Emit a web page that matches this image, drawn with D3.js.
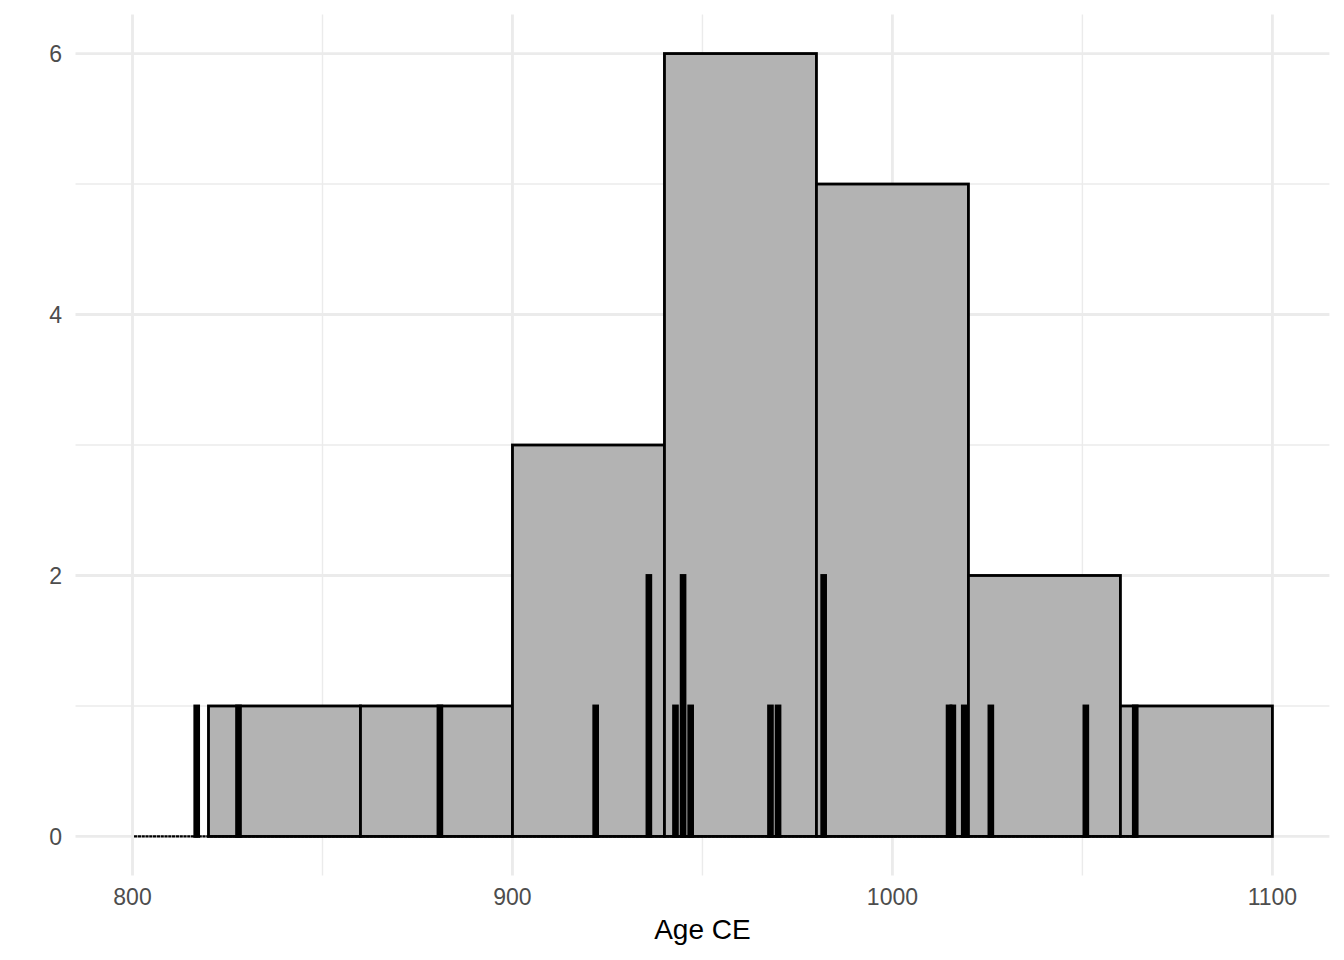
<!DOCTYPE html>
<html>
<head>
<meta charset="utf-8">
<script src="https://cdn.jsdelivr.net/npm/d3@7"></script>
<style>
  html, body { margin: 0; padding: 0; background: #ffffff; }
  svg { display: block; }
  text { font-family: "Liberation Sans", Arial, Helvetica, sans-serif; }
</style>
</head>
<body>
<svg id="chart" width="1344" height="960"></svg>
<script>
// ---- data ----
const bigBinEdges = [820, 860, 900, 940, 980, 1020, 1060, 1100];
const bigCounts   = [1, 1, 3, 6, 5, 2, 1];

const fineBinWidth = 1;
const fineRange = [800.4, 1064.4];
const fineBinStarts = [816.4, 827.4, 880.4, 921.4, 935.4, 942.4, 944.4, 946.4, 967.4, 969.4,
                       981.4, 1014.4, 1015.4, 1018.4, 1025.4, 1050.4, 1063.4];
const fineCounts    = [1, 1, 1, 1, 2, 1, 2, 1, 1, 1,
                       2, 1, 1, 1, 1, 1, 1];

const xTicks = [800, 900, 1000, 1100];
const xMinor = [850, 950, 1050];
const yTicks = [0, 2, 4, 6];
const yMinor = [1, 3, 5];
const xTitle = "Age CE";

// ---- layout ----
const svg = d3.select("#chart");
const panel = { left: 75.5, right: 1329.4, top: 14.4, bottom: 875.6 };

const x = d3.scaleLinear().domain([785, 1115]).range([panel.left, panel.right]);
const y = d3.scaleLinear().domain([-0.3, 6.3]).range([panel.bottom, panel.top]);

const gridColor = "#EBEBEB";
const lw = 2.84;

// grid
const grid = svg.append("g");
grid.selectAll(".ymin").data(yMinor).enter().append("line")
  .attr("x1", panel.left).attr("x2", panel.right)
  .attr("y1", d => y(d)).attr("y2", d => y(d))
  .attr("stroke", gridColor).attr("stroke-width", 1.42);
grid.selectAll(".xmin").data(xMinor).enter().append("line")
  .attr("y1", panel.top).attr("y2", panel.bottom)
  .attr("x1", d => x(d)).attr("x2", d => x(d))
  .attr("stroke", gridColor).attr("stroke-width", 1.42);
grid.selectAll(".ymaj").data(yTicks).enter().append("line")
  .attr("x1", panel.left).attr("x2", panel.right)
  .attr("y1", d => y(d)).attr("y2", d => y(d))
  .attr("stroke", gridColor).attr("stroke-width", lw);
grid.selectAll(".xmaj").data(xTicks).enter().append("line")
  .attr("y1", panel.top).attr("y2", panel.bottom)
  .attr("x1", d => x(d)).attr("x2", d => x(d))
  .attr("stroke", gridColor).attr("stroke-width", lw);

// big histogram
const bigBins = bigCounts.map((c, i) => ({ x0: bigBinEdges[i], x1: bigBinEdges[i + 1], n: c }));
svg.append("g").selectAll("rect").data(bigBins).enter().append("rect")
  .attr("x", d => x(d.x0))
  .attr("width", d => x(d.x1) - x(d.x0))
  .attr("y", d => y(d.n))
  .attr("height", d => y(0) - y(d.n))
  .attr("fill", "#B3B3B3")
  .attr("stroke", "#000000")
  .attr("stroke-width", lw);

// zero-height fine bins (baseline)
svg.append("line")
  .attr("x1", x(fineRange[0])).attr("x2", x(fineRange[1]))
  .attr("y1", y(0)).attr("y2", y(0))
  .attr("stroke", "#000000").attr("stroke-width", 2.2)
  .attr("stroke-dasharray", "3.2 0.6");

// fine histogram
const fineBins = fineCounts.map((c, i) => ({ x0: fineBinStarts[i], x1: fineBinStarts[i] + fineBinWidth, n: c }));
svg.append("g").selectAll("rect").data(fineBins).enter().append("rect")
  .attr("x", d => x(d.x0))
  .attr("width", d => x(d.x1) - x(d.x0))
  .attr("y", d => y(d.n))
  .attr("height", d => y(0) - y(d.n))
  .attr("fill", "#000000")
  .attr("stroke", "#000000")
  .attr("stroke-width", lw);

// axes labels
svg.append("g").selectAll("text").data(xTicks).enter().append("text")
  .attr("x", d => x(d)).attr("y", 905)
  .attr("text-anchor", "middle")
  .attr("font-size", 23).attr("fill", "#4D4D4D")
  .text(d => d);

svg.append("g").selectAll("text").data(yTicks).enter().append("text")
  .attr("x", 62).attr("y", d => y(d) + 8.3)
  .attr("text-anchor", "end")
  .attr("font-size", 23).attr("fill", "#4D4D4D")
  .text(d => d);

svg.append("text")
  .attr("x", (panel.left + panel.right) / 2).attr("y", 939)
  .attr("text-anchor", "middle")
  .attr("font-size", 28).attr("fill", "#000000")
  .text(xTitle);
</script>
</body>
</html>
